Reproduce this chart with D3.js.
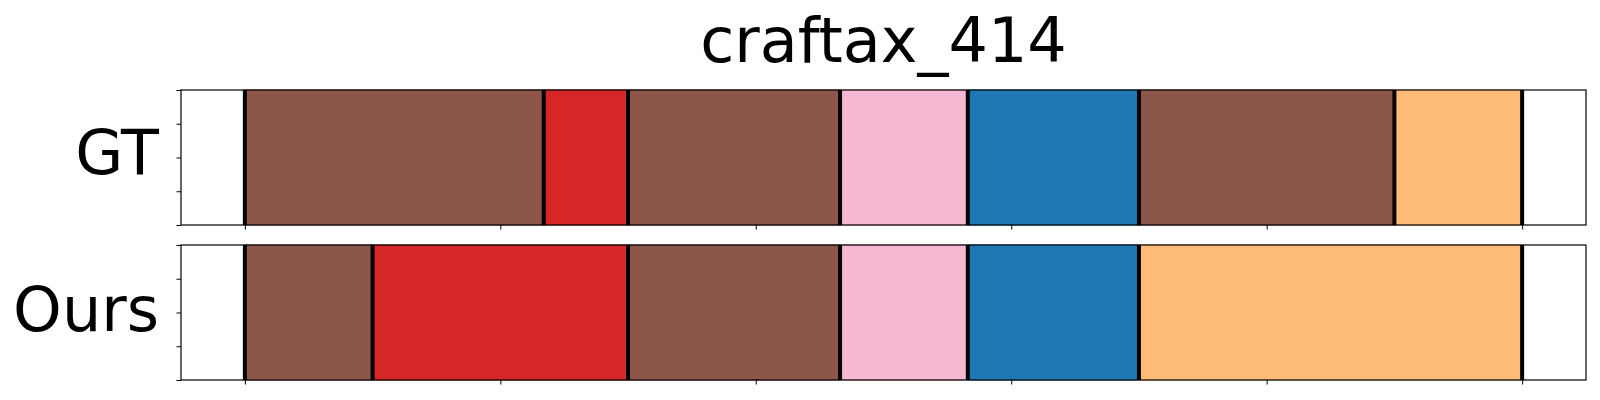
<!DOCTYPE html>
<html>
<head>
<meta charset="utf-8">
<script src="https://cdn.jsdelivr.net/npm/d3@7"></script>
<style>
  html, body { margin: 0; padding: 0; background: #fff; }
  svg { display: block; font-family: "DejaVu Sans", sans-serif; }
</style>
</head>
<body>
<svg id="chart" width="1600" height="400"></svg>
<script>
// ---- data ----
const title = "craftax_414";
const rowNames = ["GT", "Ours"];
const frameTicks = [0, 100, 200, 300, 400, 500];
const yTicks = [0, 0.25, 0.5, 0.75, 1];
// segment boundaries (frames) and segment classes
const gtBounds = [0, 117, 150, 233, 283, 350, 450, 500];
const gtClasses = ["brown", "red", "brown", "pink", "blue", "brown", "orange"];
const oursBounds = [0, 50, 150, 233, 283, 350, 500];
const oursClasses = ["brown", "red", "brown", "pink", "blue", "orange"];
const classColors = {
  brown: "#8c564b",
  red: "#d62728",
  pink: "#f7b6d2",
  blue: "#1f77b4",
  orange: "#ffbb78"
};

// ---- layout ----
const svg = d3.select("#chart");
const left = 181, right = 1586;
const rows = [
  { name: rowNames[0], bounds: gtBounds, classes: gtClasses, top: 90, bottom: 225 },
  { name: rowNames[1], bounds: oursBounds, classes: oursClasses, top: 245, bottom: 380 }
];

const x = d3.scaleLinear().domain([-25, 525]).range([left, right]);

svg.append("text")
  .attr("x", (left + right) / 2)
  .attr("y", 62)
  .attr("text-anchor", "middle")
  .attr("font-size", 62)
  .attr("fill", "#000")
  .text(title);

rows.forEach(r => {
  const g = svg.append("g");
  const y = d3.scaleLinear().domain([0, 1]).range([r.bottom, r.top]);

  const segs = r.classes.map((c, i) => ({ c, x0: r.bounds[i], x1: r.bounds[i + 1] }));
  g.selectAll("rect.seg").data(segs).join("rect")
    .attr("class", "seg")
    .attr("x", d => x(d.x0))
    .attr("width", d => x(d.x1) - x(d.x0))
    .attr("y", y(1))
    .attr("height", y(0) - y(1))
    .attr("fill", d => classColors[d.c])
    .attr("stroke", d => d3.color(classColors[d.c]).darker(0.25))
    .attr("stroke-width", 1);

  g.selectAll("line.bd").data(r.bounds).join("line")
    .attr("class", "bd")
    .attr("x1", d => x(d)).attr("x2", d => x(d))
    .attr("y1", y(1)).attr("y2", y(0))
    .attr("stroke", "#000")
    .attr("stroke-width", 4);

  // axes
  const xAxis = d3.axisBottom(x).tickValues(frameTicks).tickFormat("").tickSize(4.5).tickSizeOuter(0);
  const ax = g.append("g").attr("transform", `translate(0,${r.bottom})`).call(xAxis);
  ax.select(".domain").remove();
  ax.selectAll(".tick line").attr("stroke", "#000").attr("stroke-width", 1);

  const yAxis = d3.axisLeft(y).tickValues(yTicks).tickFormat("").tickSize(4.5).tickSizeOuter(0);
  const ay = g.append("g").attr("transform", `translate(${left},0)`).call(yAxis);
  ay.select(".domain").remove();
  ay.selectAll(".tick line").attr("stroke", "#000").attr("stroke-width", 1);

  g.append("rect")
    .attr("x", left).attr("y", r.top)
    .attr("width", right - left).attr("height", r.bottom - r.top)
    .attr("fill", "none").attr("stroke", "#000").attr("stroke-width", 1.2);

  g.append("text")
    .attr("x", 159)
    .attr("y", r.name === "GT" ? 174 : 331)
    .attr("text-anchor", "end")
    .attr("font-size", 62)
    .attr("fill", "#000")
    .text(r.name);
});
</script>
</body>
</html>
